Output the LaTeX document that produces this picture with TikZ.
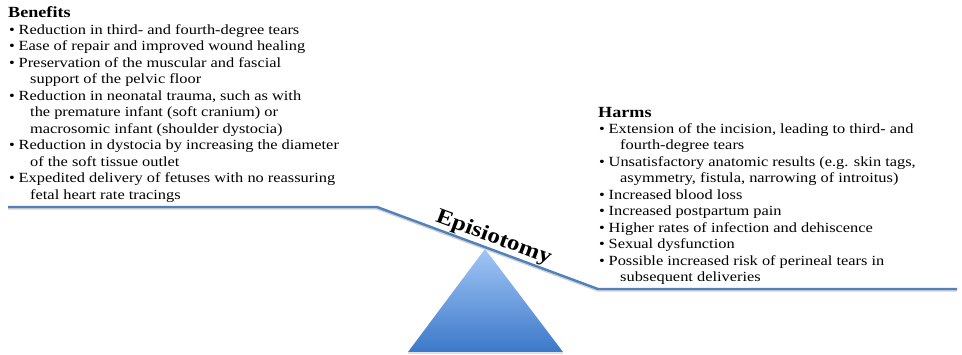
\documentclass[tikz,border=0pt]{standalone}
\usepackage{fontspec}
\setmainfont{Liberation Serif}[FakeStretch=1.17]
\usetikzlibrary{positioning,calc}

% bullet line and continuation line of a list
\newcommand{\itm}[1]{\makebox[10.5pt][l]{\hspace{1pt}\textbullet}#1}
\newcommand{\cnt}[1]{\hspace*{22pt}#1}

\begin{document}
\begin{tikzpicture}[%
    x=1pt, y=-1pt,              % image pixels, origin top left
    node distance=2pt,          % title to list
    ]
% -------------------------------------------------
% Styles
\tikzset{
  plank/.style={draw=plankblue, line width=2.4pt, line join=round},
  shadow/.style={draw=black!18, line width=2.4pt, line join=round},
  head/.style={inner sep=0pt, font=\fontsize{15.5}{17}\selectfont\bfseries},
  list/.style={inner sep=0pt, align=left, font=\fontsize{14}{16.5}\selectfont},
  tag/.style={inner sep=1.5pt, font=\fontsize{21.5}{23}\selectfont\bfseries}
}
\definecolor{plankblue}{HTML}{4F81BD}
\definecolor{lighttip}{HTML}{A2C6F6}
\definecolor{darkfoot}{HTML}{3C78C9}
\useasboundingbox (0,0) rectangle (962,355);
% -------------------------------------------------
% Seesaw
\coordinate (pl) at (8,207);
\coordinate (pm) at (377,207);
\coordinate (pr) at (598,289);
\coordinate (pe) at (957,289);
\coordinate (apex) at (485,249);
\coordinate (bl) at (408,352);
\coordinate (br) at (563,352);

\fill [black!12] ([yshift=-2pt]bl) -- ([yshift=-2pt]br) -- (br) -- (bl) -- cycle;
\shade [top color=lighttip, bottom color=darkfoot] (apex) -- (br) -- (bl) -- cycle;
\draw [shadow] ([yshift=-1.5pt]pl) -- ([yshift=-1.5pt]pm) -- ([yshift=-1.5pt]pr) -- ([yshift=-1.5pt]pe);
\draw [plank] (pl) -- (pm) -- (pr) -- (pe);

\node [tag, anchor=south, rotate=-20.35] (ep) at ($(pm)!0.51!(pr)$) {Episiotomy};
% -------------------------------------------------
% Benefits
\node [head, anchor=base west] (bhead) at (8,18) {Benefits};
\node [list, below=6pt of bhead.south west, anchor=north west] (blist) {%
  \itm{Reduction in third- and fourth-degree tears}\\
  \itm{Ease of repair and improved wound healing}\\
  \itm{Preservation of the muscular and fascial}\\
  \cnt{support of the pelvic floor}\\
  \itm{Reduction in neonatal trauma, such as with}\\
  \cnt{the premature infant (soft cranium) or}\\
  \cnt{macrosomic infant (shoulder dystocia)}\\
  \itm{Reduction in dystocia by increasing the diameter}\\
  \cnt{of the soft tissue outlet}\\
  \itm{Expedited delivery of fetuses with no reassuring}\\
  \cnt{fetal heart rate tracings}};
% -------------------------------------------------
% Harms
\node [head, anchor=base west] (hhead) at (598,118) {Harms};
\node [list, below=5pt of hhead.south west, anchor=north west] (hlist) {%
  \itm{Extension of the incision, leading to third- and}\\
  \cnt{fourth-degree tears}\\
  \itm{Unsatisfactory anatomic results (e.g. skin tags,}\\
  \cnt{asymmetry, fistula, narrowing of introitus)}\\
  \itm{Increased blood loss}\\
  \itm{Increased postpartum pain}\\
  \itm{Higher rates of infection and dehiscence}\\
  \itm{Sexual dysfunction}\\
  \itm{Possible increased risk of perineal tears in}\\
  \cnt{subsequent deliveries}};
% -------------------------------------------------
\end{tikzpicture}
\end{document}
